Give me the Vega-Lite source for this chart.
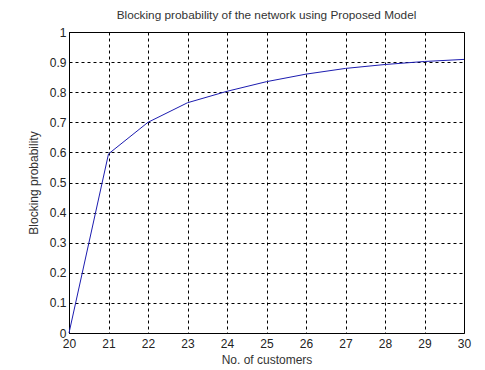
{
  "$schema": "https://vega.github.io/schema/vega-lite/v6.json",
  "width": 395,
  "height": 301,
  "autosize": {"type": "none"},
  "padding": {"left": 69, "top": 32, "right": 21, "bottom": 37},
  "background": "white",
  "title": {
    "text": "Blocking probability of the network using Proposed Model",
    "font": "Liberation Sans",
    "fontSize": 11.8,
    "fontWeight": "normal",
    "color": "#333333",
    "offset": 4
  },
  "data": {
    "values": [
      {"customers": 20, "prob": 0.0},
      {"customers": 21, "prob": 0.595},
      {"customers": 22, "prob": 0.70},
      {"customers": 23, "prob": 0.765},
      {"customers": 24, "prob": 0.803},
      {"customers": 25, "prob": 0.835},
      {"customers": 26, "prob": 0.86},
      {"customers": 27, "prob": 0.879},
      {"customers": 28, "prob": 0.892},
      {"customers": 29, "prob": 0.902},
      {"customers": 30, "prob": 0.909}
    ]
  },
  "config": {
    "view": {"stroke": "black", "strokeWidth": 1},
    "axis": {
      "labelFont": "Liberation Sans",
      "labelFontSize": 12,
      "labelColor": "#222222",
      "titleFont": "Liberation Sans",
      "titleFontSize": 12,
      "titleFontWeight": "normal",
      "titleColor": "#333333",
      "domain": false,
      "tickColor": "black",
      "tickSize": 0,
      "gridColor": "black",
      "gridOpacity": 1,
      "gridWidth": 1,
      "gridDash": [3, 3],
      "labelFlush": false,
      "labelOverlap": false
    }
  },
  "mark": {"type": "line", "color": "#1c1cb0", "strokeWidth": 1},
  "encoding": {
    "x": {
      "field": "customers",
      "type": "quantitative",
      "scale": {"domain": [20, 30], "nice": false, "zero": false},
      "axis": {
        "title": "No. of customers",
        "values": [20, 21, 22, 23, 24, 25, 26, 27, 28, 29, 30],
        "format": "d",
        "labelPadding": 5,
        "titlePadding": 5
      }
    },
    "y": {
      "field": "prob",
      "type": "quantitative",
      "scale": {"domain": [0, 1], "nice": false},
      "axis": {
        "title": "Blocking probability",
        "values": [0, 0.1, 0.2, 0.3, 0.4, 0.5, 0.6, 0.7, 0.8, 0.9, 1],
        "format": "~g",
        "labelPadding": 3,
        "labelBaseline": "alphabetic",
        "labelOffset": 4,
        "titlePadding": 9
      }
    }
  }
}
